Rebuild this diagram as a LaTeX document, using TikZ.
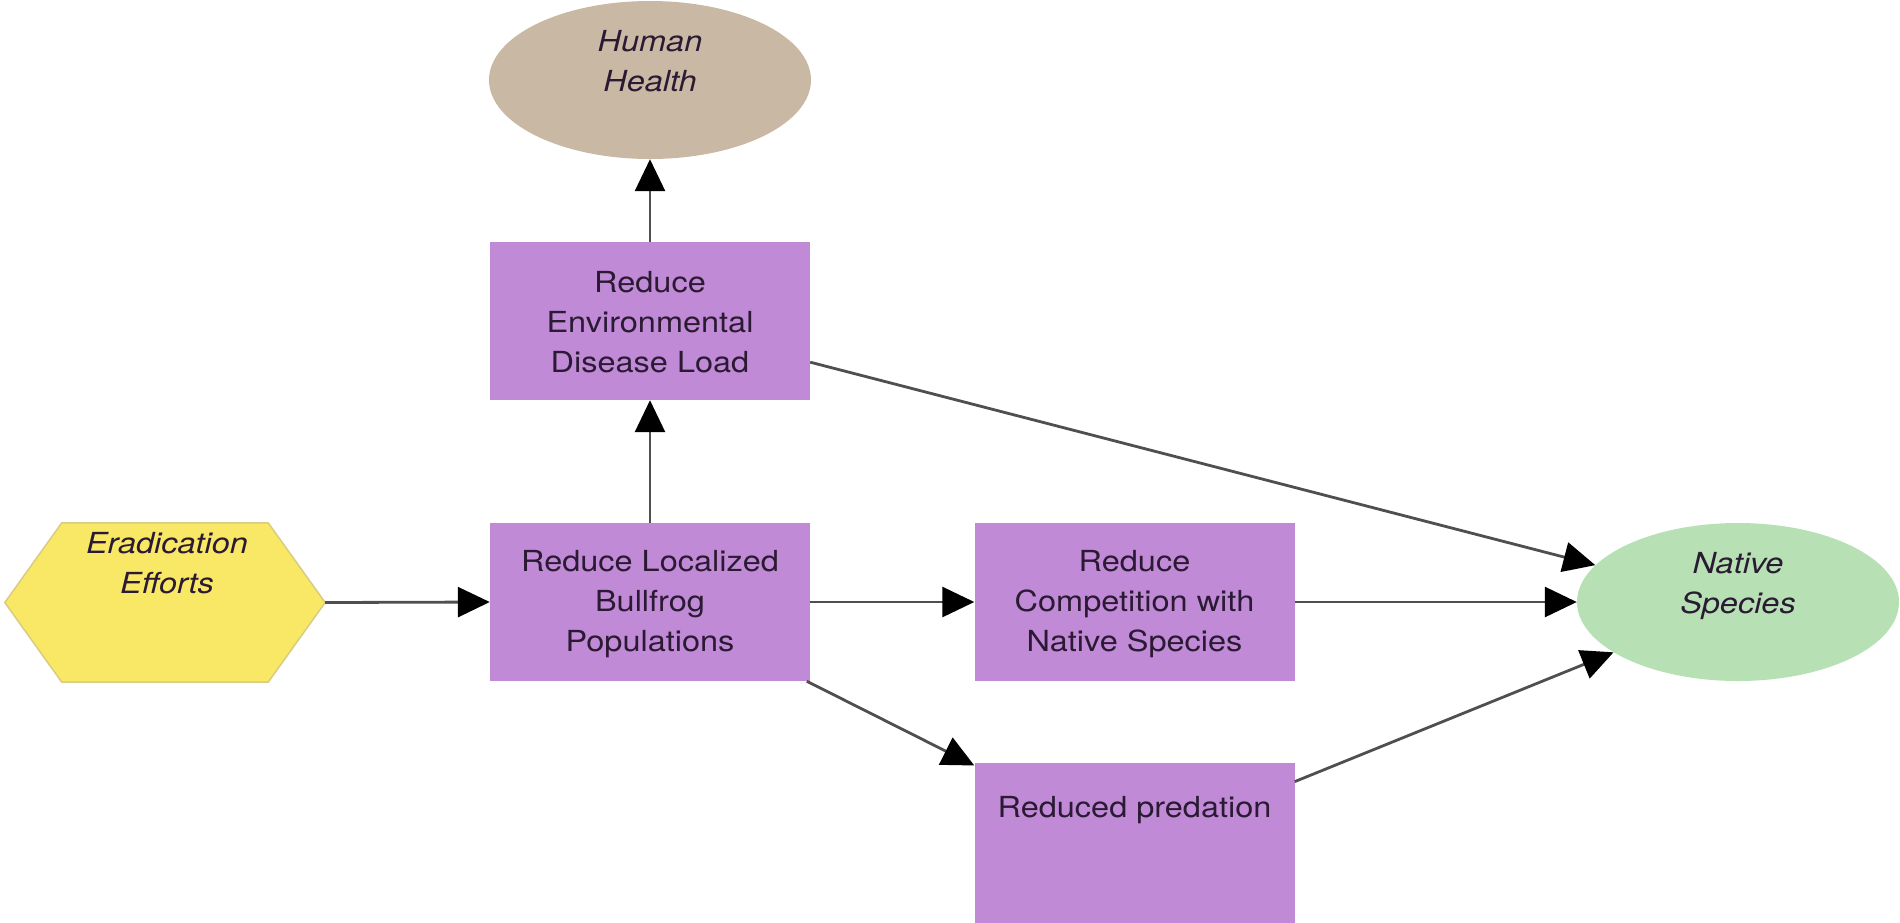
\documentclass[tikz,border=0pt]{standalone}
\usepackage{fontspec}
\setmainfont{TeX Gyre Heros}[FakeStretch=1.12]
\usetikzlibrary{arrows.meta,shapes.geometric,calc}
\definecolor{boxpurple}{HTML}{C18AD6}
\definecolor{hexyellow}{HTML}{F8E866}
\definecolor{hexedge}{HTML}{D9CC80}
\definecolor{tanfill}{HTML}{C9B8A3}
\definecolor{mintfill}{HTML}{B7E1B5}
\definecolor{linegray}{HTML}{4F4F4F}
\definecolor{txt}{HTML}{2B1A33}
\begin{document}
\begin{tikzpicture}[x=1pt,y=-1pt,
  lbl/.style={font=\fontsize{29}{40}\selectfont, text=txt, align=center, inner sep=0pt},
  ilbl/.style={lbl, font=\fontsize{29}{40}\selectfont\itshape},
  boxnode/.style={rectangle, fill=boxpurple, minimum width=320pt, minimum height=158pt, inner sep=0pt},
  ellnode/.style={ellipse, minimum width=322pt, minimum height=158pt, inner sep=0pt},
  conn/.style={draw=linegray, line width=2.8pt, -{Triangle[length=32pt,width=30pt,color=black]}}
]
\useasboundingbox (0,0) rectangle (1900,922);
% shapes
\node[ellnode, fill=tanfill] (hh) at (650,80) {};
\node[boxnode] (env) at (650,321) {};
\node[boxnode] (loc) at (650,602) {};
\node[boxnode] (comp) at (1134.5,602) {};
\node[boxnode, minimum height=166pt] (pred) at (1134.5,846) {};
\node[ellnode, fill=mintfill] (nat) at (1738,602) {};
\node[minimum width=320pt, minimum height=159pt, inner sep=0pt] (hex) at (165,602.5) {};
\filldraw[fill=hexyellow, draw=hexedge, line width=1.5pt]
  (hex.west) -- ($(hex.north west)+(57,0)$) -- ($(hex.north east)+(-57,0)$)
  -- (hex.east) -- ($(hex.south east)+(-57,0)$) -- ($(hex.south west)+(57,0)$) -- cycle;
% texts
\node[ilbl] (hhT) at (650,61) {Human\\Health};
\node[lbl] (envT) at (650,322) {Reduce\\Environmental\\Disease Load};
\node[lbl] (locT) at (650,604) {Reduce Localized\\Bullfrog\\Populations};
\node[lbl] (compT) at (1134.5,604) {Reduce\\Competition with\\Native Species};
\node[lbl] (predT) at (1134.5,810) {Reduced predation};
\node[ilbl] (natT) at (1738,586) {Native\\Species};
\node[ilbl] (hexT) at (167,563) {Eradication\\Efforts};
% connectors
\draw[conn] (hex.east) -- (loc.west);
\draw[conn] (loc) -- (env);
\draw[conn] (env) -- (hh);
\draw[conn] (loc) -- (comp);
\draw[conn] (comp) -- (nat);
\draw[conn] (loc) -- (pred);
\draw[conn] (env) -- (nat);
\draw[conn] (pred) -- (nat);
\end{tikzpicture}
\end{document}
